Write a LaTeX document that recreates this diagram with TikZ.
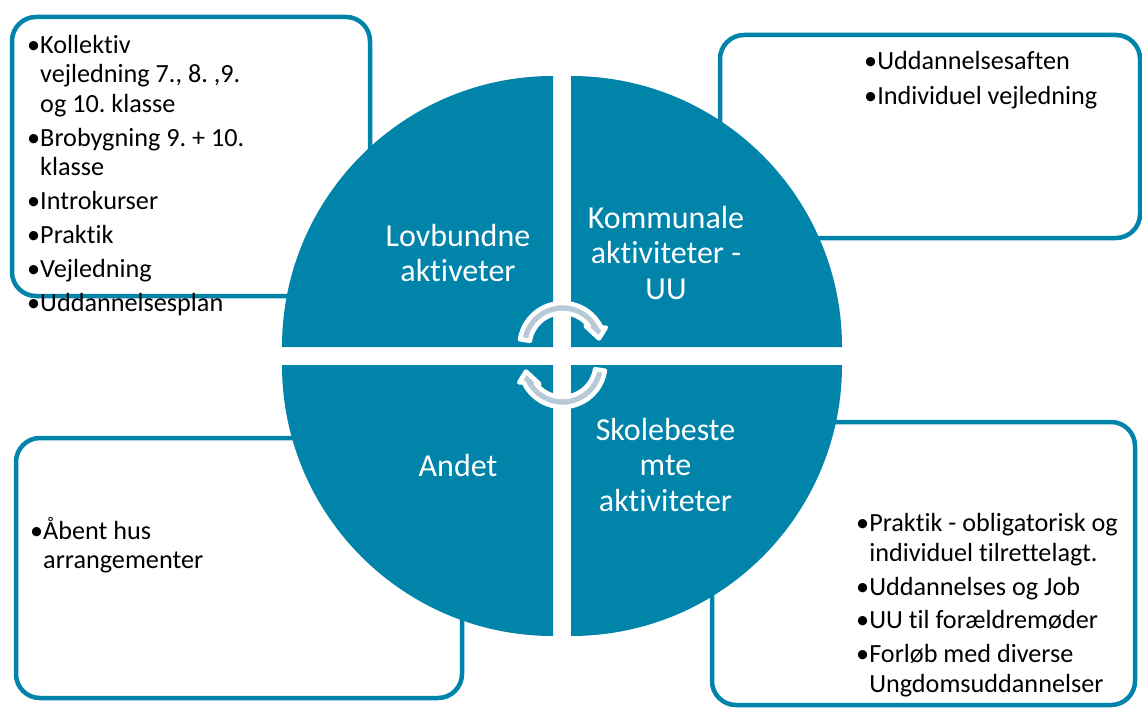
\documentclass[tikz,border=0pt]{standalone}
\usepackage{fontspec}
\setmainfont[Ligatures={NoCommon},RawFeature={-liga;-clig;-dlig}]{Carlito}
\definecolor{blu}{HTML}{0084AA}
\definecolor{arrowfill}{HTML}{B7C9D6}
\frenchspacing
\tikzset{
  cycarrow/.pic={
    \filldraw[fill=arrowfill, draw=white, line width=4.5pt, line join=round]
      (189:43) arc[start angle=189, end angle=334.5, radius=43]
      -- (43.3,-18.4) -- (36.5,-7.5) -- (23.1,-19.9)
      -- (323.6:33) arc[start angle=323.6, end angle=189, radius=33] -- cycle;
  }
}
\begin{document}
\frenchspacing
\begin{tikzpicture}[x=1pt,y=-1pt,
  box/.style={draw=blu, line width=4.5pt, rounded corners=24pt, fill=white},
  quad/.style={fill=blu},
  lbl/.style={text=white, inner sep=0pt, anchor=base, font=\fontsize{32}{35.5}\selectfont},
  txt/.style={text=black, inner sep=0pt, anchor=base west, font=\fontsize{26.2}{29.5}\selectfont},
]
\useasboundingbox (0,0) rectangle (1142,709);
\fill[white] (0,0) rectangle (1142,709);

% boxes
\draw[box] (12,17) rectangle (370,296);
\draw[box] (720,35) rectangle (1140,238);
\draw[box] (712,422) rectangle (1135,705);
\draw[box] (16,438) rectangle (462,698);

% quadrants
\fill[quad] (553,347) -- ++(-271,0) arc[start angle=180, end angle=270, radius=271] -- cycle;
\fill[quad] (571,347) -- ++(0,-271) arc[start angle=270, end angle=360, radius=271] -- cycle;
\fill[quad] (571,365) -- ++(271,0) arc[start angle=0, end angle=90, radius=271] -- cycle;
\fill[quad] (553,365) -- ++(0,271) arc[start angle=90, end angle=180, radius=271] -- cycle;

% cycle arrows
\pic at (562.5,346) {cycarrow};
\pic[rotate=180] at (562.5,364) {cycarrow};

% quadrant labels
\node[lbl] (lov) at (458,246) {\begin{tabular}[t]{@{}c@{}}Lovbundne\\aktiveter\end{tabular}};
\node[lbl] (kom) at (666,228) {\begin{tabular}[t]{@{}c@{}}Kommunale\\aktiviteter -\\UU\end{tabular}};
\node[lbl] (and) at (458,476) {Andet};
\node[lbl] (sko) at (665.5,440) {\begin{tabular}[t]{@{}c@{}}Skolebeste\\mte\\aktiviteter\end{tabular}};

% box texts
\node[txt] (tl) at (27,53) {\begin{tabular}[t]{@{}l@{}l@{}}
•&Kollektiv\\
 &vejledning 7., 8. ,9.\\
 &og 10. klasse\\[4.5pt]
•&Brobygning 9. + 10.\\
 &klasse\\[4.5pt]
•&Introkurser\\[4.5pt]
•&Praktik\\[4.5pt]
•&Vejledning\\[4.5pt]
•&Uddannelsesplan
\end{tabular}};

\node[txt] (tr) at (864,70) {\begin{tabular}[t]{@{}l@{}l@{}}
•&Uddannelsesaften\\[5.5pt]
•&Individuel vejledning
\end{tabular}};

\node[txt, font=\fontsize{26.2}{30.5}\selectfont] (br) at (856,531) {\begin{tabular}[t]{@{}l@{}l@{}}
•&Praktik - obligatorisk og\\
 &individuel tilrettelagt.\\[3pt]
•&Uddannelses og Job\\[3pt]
•&UU til forældremøder\\[3pt]
•&Forløb med diverse\\
 &Ungdomsuddannelser
\end{tabular}};

\node[txt] (bl) at (30,539) {\begin{tabular}[t]{@{}l@{}l@{}}
•&Åbent hus\\
 &arrangementer
\end{tabular}};
\end{tikzpicture}
\end{document}
